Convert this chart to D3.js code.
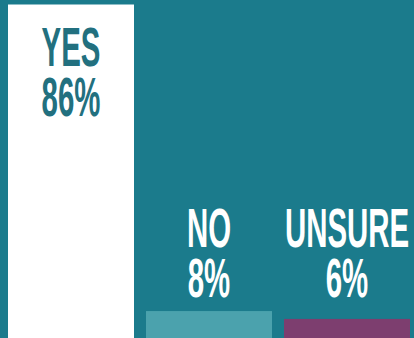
<!DOCTYPE html>
<html>
<head>
<meta charset="utf-8">
<script src="https://cdn.jsdelivr.net/npm/d3@7"></script>
<style>
  html, body { margin: 0; padding: 0; background: #1b7b8c; }
  svg { display: block; }
</style>
</head>
<body>
<svg id="chart" width="414" height="338"></svg>
<script>
// Survey answers and their shares (percent)
const categories = ["YES", "NO", "UNSURE"];
const values = [86, 8, 6];
const valueLabels = ["86%", "8%", "6%"];
const barColors = ["#ffffff", "#4ba2ad", "#7d3e6f"];

const W = 414, H = 338;
const svg = d3.select("#chart");

svg.append("rect").attr("width", W).attr("height", H).attr("fill", "#1b7b8c");

// Bars grow from a baseline just below the visible frame
const x = d3.scaleBand().domain(categories).range([8, 410]).paddingInner(0.087).paddingOuter(0);
const y = d3.scaleLinear().domain([0, 86]).range([342.5, 4.5]);

const data = categories.map((c, i) => ({ cat: c, value: values[i], label: valueLabels[i], color: barColors[i] }));

svg.selectAll("rect.bar").data(data).enter().append("rect")
  .attr("class", "bar")
  .attr("x", d => x(d.cat))
  .attr("y", d => y(d.value))
  .attr("width", x.bandwidth())
  .attr("height", d => y(0) - y(d.value))
  .attr("fill", d => d.color);

// Condensed display type: bold sans squeezed horizontally
const fontSize = 56, squeeze = 0.525, pitch = 50;
const small = data.filter(d => d.value < 50);
const outsideBase = d3.min(small, d => y(d.value)) - 14;

function addLabel(d) {
  const inside = d.value >= 50;
  const cx = x(d.cat) + x.bandwidth() / 2;
  const base2 = inside ? y(d.value) + 112 : outsideBase;
  const g = svg.append("g").attr("transform", `translate(${cx},0) scale(${squeeze},1)`);
  const t = g.append("text")
    .attr("text-anchor", "middle")
    .attr("font-family", "'Liberation Sans', Arial, sans-serif")
    .attr("font-weight", "bold")
    .attr("font-size", fontSize)
    .attr("fill", inside ? "#22707f" : "#ffffff");
  t.append("tspan").attr("x", 0).attr("y", base2 - pitch).text(d.cat);
  t.append("tspan").attr("x", 0).attr("y", base2).text(d.label);
}
data.forEach(addLabel);
</script>
</body>
</html>
